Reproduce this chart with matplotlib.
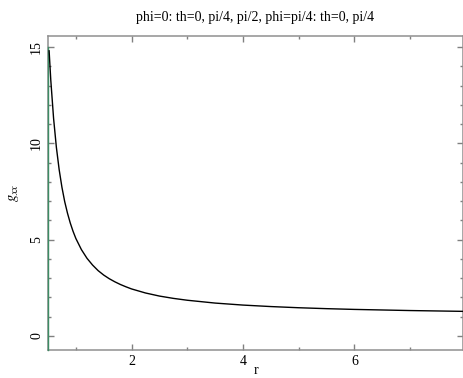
import matplotlib
matplotlib.use("Agg")
import matplotlib.pyplot as plt
from matplotlib.ticker import MultipleLocator

# valores
r = [0.52, 0.55, 0.6, 0.65, 0.7, 0.75, 0.8, 0.85, 0.9, 0.95, 1.0, 1.1, 1.2,
     1.3, 1.4, 1.5, 1.6, 1.7, 1.8, 1.9, 2.0, 2.25, 2.5, 2.75, 3.0, 3.5, 4.0,
     4.5, 5.0, 5.5, 6.0, 7.0, 7.95]
g_xx = [14.80, 13.28, 11.30, 9.80, 8.64, 7.72, 6.97, 6.37, 5.86, 5.43, 5.06,
        4.48, 4.03, 3.68, 3.39, 3.16, 2.97, 2.81, 2.67, 2.55, 2.44, 2.23,
        2.07, 1.95, 1.853, 1.706, 1.602, 1.525, 1.464, 1.416, 1.377, 1.318,
        1.276]

# curva verde quase vertical junto ao eixo
r_green = [0.5, 0.5]
g_green = [15.0, -0.75]

title = "phi=0: th=0, pi/4, pi/2, phi=pi/4: th=0, pi/4"

plt.rcParams['font.family'] = ['Liberation Serif', 'DejaVu Serif']
plt.rcParams['mathtext.fontset'] = 'stix'

fig = plt.figure(figsize=(4.63, 3.78), dpi=100)
ax = fig.add_axes([48 / 463, 28 / 378, 415 / 463, 314 / 378])

ax.plot(r_green, g_green, color='#3c8c64', lw=1.0, zorder=4, clip_on=False)
ax.plot(r, g_xx, color='black', lw=1.0, zorder=5)

ax.set_xlim(0.5, 7.95)
ax.set_ylim(-0.73, 15.57)

ax.xaxis.set_major_locator(MultipleLocator(2))
ax.xaxis.set_minor_locator(MultipleLocator(1))
ax.yaxis.set_major_locator(MultipleLocator(5))
ax.yaxis.set_minor_locator(MultipleLocator(1))

ax.tick_params(which='both', direction='in', top=True, right=True,
               color='#808080', labelsize=10)
ax.tick_params(which='major', length=4, width=1)
ax.tick_params(which='minor', length=2, width=1)
for lab in ax.get_yticklabels():
    lab.set_rotation(90)
    lab.set_va('center')

for sp in ax.spines.values():
    sp.set_color('#909090')
    sp.set_linewidth(1.1)

ax.set_title(title, fontsize=10, pad=11)
ax.set_xlabel('r', fontsize=10)
ax.xaxis.set_label_coords(0.5, -0.045)
ax.set_ylabel(r'$g_{xx}$', fontsize=10.5)
ax.yaxis.set_label_coords(-0.065, 0.5)

fig.savefig('out.png', dpi=100)
